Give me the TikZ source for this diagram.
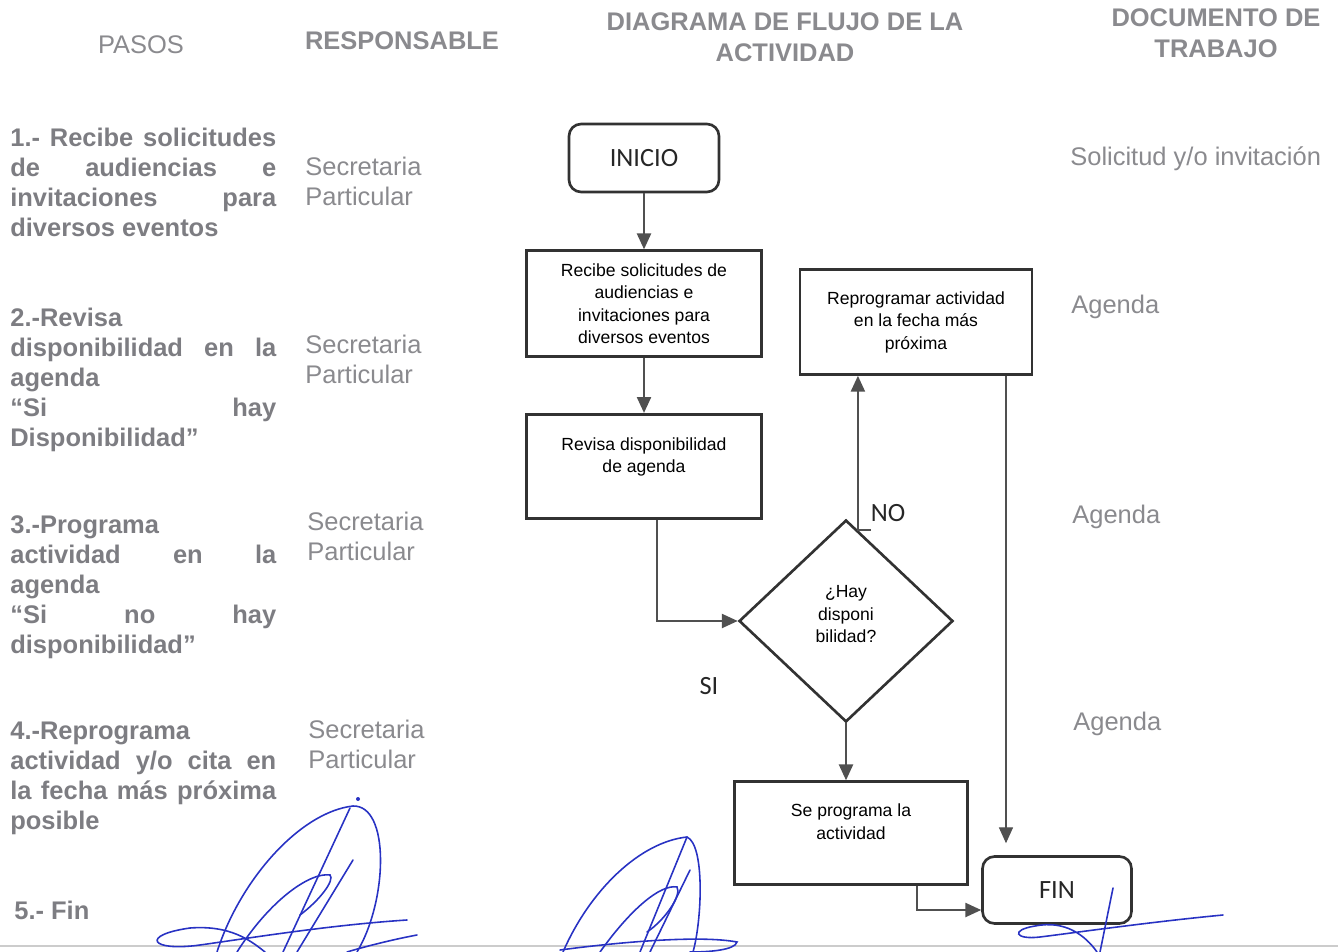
\documentclass[tikz,border=0pt]{standalone}
\usepackage{fontspec}
\setmainfont{Liberation Sans}
\newfontfamily\calibrifont{Carlito}
\usetikzlibrary{positioning,shapes.geometric,arrows.meta,calc}

\definecolor{stepgray}{RGB}{125,125,130}
\definecolor{headgray}{RGB}{138,138,142}
\definecolor{linegray}{RGB}{80,80,80}
\definecolor{boxgray}{RGB}{50,50,50}
\definecolor{inkblue}{RGB}{40,50,195}

\newcommand{\fillline}[1]{\makebox[5.32cm][s]{#1}}

\begin{document}
\begin{tikzpicture} [
	x=0.02cm,y=-0.02cm,
	text centered,
	node distance=1.16cm,
	nhead/.style={
		align=center,inner sep=0pt,text=headgray,
		font=\fontsize{14.5}{17.6}\selectfont\bfseries
	},
	nstep/.style={
		anchor=north west,align=left,inner sep=0pt,text=stepgray,
		font=\fontsize{14.5}{17.07}\selectfont\bfseries
	},
	nresp/.style={
		anchor=north west,align=left,inner sep=0pt,text=headgray,
		font=\fontsize{14.5}{17.07}\selectfont
	},
	ndoc/.style={
		anchor=base west,inner sep=0pt,text=headgray,
		font=\fontsize{14.5}{17}\selectfont
	},
	nterm/.style={
		rectangle,rounded corners=0.24cm,draw=boxgray,line width=1.5pt,
		minimum width=3cm,minimum height=1.36cm,text=black!85,
		font=\calibrifont\fontsize{15}{18}\selectfont
	},
	nproc/.style={
		rectangle,draw=boxgray,line width=1.5pt,align=center,
		minimum width=4.7cm,minimum height=2.1cm,text=black,
		font=\fontsize{10}{12.8}\selectfont
	},
	ndec/.style={
		diamond,draw=boxgray,line width=1.5pt,align=center,inner sep=0pt,
		minimum width=4.28cm,minimum height=4.04cm,text=black,
		font=\fontsize{10}{12.8}\selectfont
	},
	nlabel/.style={
		text=black!85,font=\calibrifont\fontsize{15}{18}\selectfont
	},
	flow/.style={
		draw=linegray,line width=1.1pt,-{Triangle[width=8pt,length=9pt]}
	},
	flowin/.style={
		draw=linegray,line width=1.1pt,{Triangle[width=8pt,length=9pt]}-
	},
	ink/.style={draw=inkblue,line width=0.9pt,line cap=round}
]
\useasboundingbox (0,0) rectangle (1338,952);

% encabezados
\node [nhead,font=\fontsize{14.5}{17.6}\selectfont] (pasos) at (141,45) {PASOS};
\node [nhead] (responsable) at (402,41) {RESPONSABLE};
\node [nhead] (diagrama) at (785,37) {DIAGRAMA DE FLUJO DE LA\\ACTIVIDAD};
\node [nhead] (documento) at (1216,33) {DOCUMENTO DE\\TRABAJO};

% pasos
\node [nstep] (paso1) at (10,128) {\fillline{1.- Recibe solicitudes}\\
	\fillline{de audiencias e}\\
	\fillline{invitaciones para}\\
	diversos eventos};
\node [nstep] (paso2) at (10,308) {2.-Revisa\\
	\fillline{disponibilidad en la}\\
	agenda\\
	\fillline{“Si hay}\\
	Disponibilidad”};
\node [nstep] (paso3) at (10,515) {3.-Programa\\
	\fillline{actividad en la}\\
	agenda\\
	\fillline{“Si no hay}\\
	disponibilidad”};
\node [nstep] (paso4) at (10,722) {4.-Reprograma\\
	\fillline{actividad y/o cita en}\\
	\fillline{la fecha más próxima}\\
	posible};
\node [nstep] (paso5) at (14,901) {5.- Fin};

% responsables
\node [nresp] (resp1) at (305,157) {Secretaria\\Particular};
\node [nresp] (resp2) at (305,335) {Secretaria\\Particular};
\node [nresp] (resp3) at (307,512) {Secretaria\\Particular};
\node [nresp] (resp4) at (308,720) {Secretaria\\Particular};

% documentos
\node [ndoc] (doc1) at (1070,166) {Solicitud y/o invitación};
\node [ndoc] (doc2) at (1071,314) {Agenda};
\node [ndoc] (doc3) at (1072,523) {Agenda};
\node [ndoc] (doc4) at (1073,730) {Agenda};

% diagrama
\node [nterm] (inicio) at (644,158) {INICIO};
\node [nproc,minimum height=2.12cm] (recibe) [below=1.12cm of inicio]
	{Recibe solicitudes de\\audiencias e\\invitaciones para\\diversos eventos}
	edge [flowin] (inicio);
\node [nproc,minimum height=2.08cm] (revisa) [below=1.1cm of recibe]
	{Revisa disponibilidad\\de agenda\\ \mbox{}}
	edge [flowin] (recibe);
\node [ndec] (hay) at (846,621) {¿Hay\\disponi\\bilidad?\\[-0.17cm]\mbox{}};
\node [nproc,minimum width=4.66cm,minimum height=2.06cm] (programa) [below=1.14cm of hay,xshift=0.1cm]
	{Se programa la\\actividad\\ \mbox{}};
\node [nproc,minimum width=4.64cm] (reprograma) at (916,322)
	{Reprogramar actividad\\en la fecha más\\próxima};
\node [nterm,minimum width=2.98cm,minimum height=1.34cm] (fin) at (1057,890) {FIN};

\draw [flow] (hay.south) -- (hay.south |- programa.north);
\draw [flow] ([xshift=0.26cm]revisa.south) |- (hay.west);
\coordinate (notap) at ($(hay.north)!0.11!(hay.east)$);
\draw [flow] ([xshift=0.26cm]notap) -- (notap) -- (notap |- reprograma.south);
\coordinate (reprobaja) at ([xshift=1.8cm]reprograma.south);
\draw [flow,line width=0.6pt,shorten >=0.24cm] (reprobaja) -- (reprobaja |- fin.north);
\draw [flow] ([xshift=1.32cm]programa.south) |- ([yshift=-0.4cm]fin.west);

\node [nlabel] (no) at (888,513) {NO};
\node [nlabel] (si) at (709,686) {SI};

% firmas
\draw [black!20,line width=0.8pt] (0,946) -- (1338,946);
\draw [ink] (217,952) .. controls (240,880) and (300,812) .. (353,806)
	.. controls (390,805) and (388,900) .. (357,952);
\draw [ink] (350,808) -- (283,952);
\draw [ink] (353,860) -- (297,952);
\draw [ink] (237,952) .. controls (270,900) and (310,872) .. (330,875)
	.. controls (335,880) and (320,900) .. (300,915);
\draw [ink] (407,920) .. controls (330,925) and (250,938) .. (200,945)
	.. controls (150,952) and (140,935) .. (190,928)
	.. controls (230,925) and (250,940) .. (265,952);
\draw [ink] (417,935) .. controls (390,940) and (360,948) .. (347,952);
\fill [inkblue] (358,799) circle (2);
\draw [ink] (563,952) .. controls (590,890) and (640,842) .. (687,837)
	.. controls (705,845) and (702,920) .. (693,952);
\draw [ink] (687,837) -- (640,952);
\draw [ink] (690,870) -- (650,952);
\draw [ink] (600,952) .. controls (630,910) and (660,884) .. (677,887)
	.. controls (682,895) and (665,920) .. (647,932);
\draw [ink] (560,950) .. controls (620,942) and (700,935) .. (737,942)
	.. controls (735,950) and (710,952) .. (690,952);
\draw [ink] (1223,915) .. controls (1150,922) and (1080,932) .. (1040,937)
	.. controls (1015,940) and (1010,930) .. (1035,926)
	.. controls (1065,920) and (1085,935) .. (1097,952);
\draw [ink] (1113,888) -- (1100,952);
\end{tikzpicture}
\end{document}
